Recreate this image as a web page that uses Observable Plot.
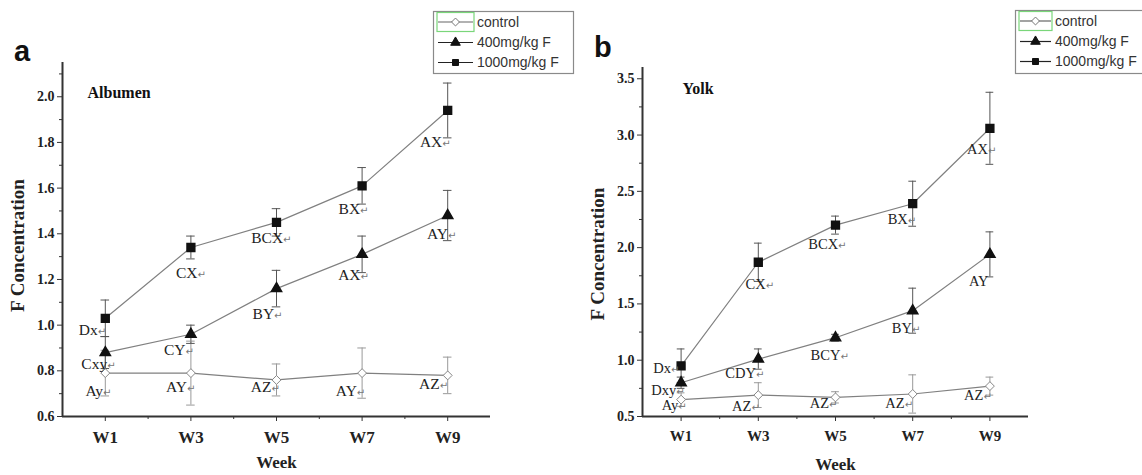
<!DOCTYPE html>
<html>
<head>
<meta charset="utf-8">
<script src="https://cdn.jsdelivr.net/npm/d3@7"></script>
<script src="https://cdn.jsdelivr.net/npm/@observablehq/plot@0.6"></script>
<style>
  html, body { margin: 0; padding: 0; background: #fff; }
  #root { position: relative; width: 1142px; height: 475px; overflow: hidden; background: #fff; }
  .panel { position: absolute; top: 0; }
  .letter { position: absolute; font-family: "Liberation Sans", Arial, sans-serif; font-weight: bold; font-size: 29px; color: #111; line-height: 1; }
  #legend { position: absolute; left: 0; top: 0; pointer-events: none; }
</style>
</head>
<body>
<div id="root">
  <div id="pa" class="panel" style="left:0px"></div>
  <div id="pb" class="panel" style="left:580px"></div>
  <div class="letter" style="left:14px;top:37px">a</div>
  <div class="letter" style="left:594px;top:33px">b</div>
  <svg id="legend" width="1142" height="475"></svg>
</div>
<script>
// ---------- data ----------
const weeks = [1, 3, 5, 7, 9];
const weekLabels = ["W1", "W3", "W5", "W7", "W9"];
const seriesNames = ["control", "400mg/kg F", "1000mg/kg F"];

// Panel a: Albumen
const albControl = [0.79, 0.79, 0.76, 0.79, 0.78];
const albControlErr = [0.10, 0.14, 0.07, 0.11, 0.08];
const alb400 = [0.88, 0.96, 1.16, 1.31, 1.48];
const alb400Err = [0.07, 0.04, 0.08, 0.08, 0.11];
const alb1000 = [1.03, 1.34, 1.45, 1.61, 1.94];
const alb1000Err = [0.08, 0.05, 0.06, 0.08, 0.12];
const albYTicks = [0.6, 0.8, 1.0, 1.2, 1.4, 1.6, 1.8, 2.0];
const albYMinor = [0.7, 0.9, 1.1, 1.3, 1.5, 1.7, 1.9, 2.1];
// [text, week, value] of the significance letters
const albLabels = [
  ["Dx\u21b5", 0.70, 0.98], ["CX\u21b5", 3.0, 1.23], ["BCX\u21b5", 4.88, 1.38], ["BX\u21b5", 6.80, 1.51], ["AX\u21b5", 8.71, 1.80],
  ["Cxy\u21b5", 0.84, 0.83], ["CY\u21b5", 2.72, 0.89], ["BY\u21b5", 4.79, 1.05], ["AX\u21b5", 6.80, 1.22], ["AY\u21b5", 8.86, 1.40],
  ["Ay\u21b5", 0.84, 0.71], ["AY\u21b5", 2.76, 0.73], ["AZ\u21b5", 4.74, 0.73], ["AY\u21b5", 6.73, 0.71], ["AZ\u21b5", 8.67, 0.74]
];

// Panel b: Yolk
const yolkControl = [0.65, 0.69, 0.67, 0.70, 0.77];
const yolkControlErr = [0.06, 0.11, 0.05, 0.17, 0.08];
const yolk400 = [0.80, 1.01, 1.20, 1.44, 1.94];
const yolk400Err = [0.05, 0.09, 0.03, 0.20, 0.20];
const yolk1000 = [0.95, 1.87, 2.20, 2.39, 3.06];
const yolk1000Err = [0.15, 0.17, 0.08, 0.20, 0.32];
const yolkYTicks = [0.5, 1.0, 1.5, 2.0, 2.5, 3.0, 3.5];
const yolkYMinor = [0.75, 1.25, 1.75, 2.25, 2.75, 3.25];
const yolkLabels = [
  ["Dx\u21b5", 0.62, 0.93], ["CX\u21b5", 3.04, 1.67], ["BCX\u21b5", 4.79, 2.03], ["BX\u21b5", 6.72, 2.25], ["AX\u21b5", 8.79, 2.87],
  ["Dxy\u21b5", 0.66, 0.735], ["CDY\u21b5", 2.65, 0.88], ["BCY\u21b5", 4.85, 1.04], ["BY\u21b5", 6.83, 1.28], ["AY", 8.71, 1.70],
  ["Ay\u21b5", 0.82, 0.60], ["AZ\u21b5", 2.68, 0.59], ["AZ\u21b5", 4.69, 0.615], ["AZ\u21b5", 6.65, 0.62], ["AZ\u21b5", 8.69, 0.69]
];

// ---------- drawing ----------
const SERIF = "'Liberation Serif', 'Times New Roman', serif";

function panel(cfg) {
  const rows = [];
  cfg.series.forEach(([name, vals, errs]) =>
    vals.forEach((v, i) => rows.push({series: name, week: weeks[i], value: v, err: errs[i]})));
  const labs = cfg.labels.map(([text, week, value]) => ({text, week, value}));
  const lo = d => d.value - d.err, hi = d => d.value + d.err;
  const cap = 0.1 * cfg.capScale;
  const bySeries = s => rows.filter(d => d.series === s);
  const barColor = d => d.series === "control" ? "#999" : "#555";
  return Plot.plot({
    width: cfg.width, height: 475,
    marginLeft: 62, marginRight: cfg.marginRight, marginTop: cfg.marginTop, marginBottom: 59,
    style: {background: "transparent", fontFamily: SERIF, overflow: "visible"},
    x: {domain: [0, 10], axis: null},
    y: {domain: cfg.yDomain, axis: null},
    marks: [
      Plot.axisY({ticks: cfg.yTicks, tickSize: 5, tickPadding: 3, tickFormat: d3.format(".1f"),
        fontSize: cfg.yFont, fontWeight: "bold", fontFamily: SERIF, stroke: "#333", fill: "#222", label: null}),
      Plot.axisY({ticks: cfg.yMinor, tickSize: 3, tickFormat: () => "", stroke: "#333", label: null}),
      Plot.axisX({ticks: weeks, tickSize: 5, tickPadding: cfg.xPad, tickFormat: d => weekLabels[weeks.indexOf(d)],
        fontSize: cfg.xFont, fontWeight: "bold", fontFamily: SERIF, stroke: "#333", fill: "#222", label: null}),
      Plot.axisX({ticks: [2, 4, 6, 8], tickSize: 3, tickFormat: () => "", stroke: "#333", label: null}),
      Plot.ruleX([0], {stroke: "#333", strokeWidth: 2}),
      Plot.ruleY([cfg.yDomain[0]], {stroke: "#333", strokeWidth: 2}),
      Plot.line(rows, {x: "week", y: "value", z: "series", stroke: "#808080", strokeWidth: 1.2}),
      Plot.ruleX(rows, {x: "week", y1: lo, y2: hi, stroke: barColor, strokeWidth: 1}),
      Plot.ruleY(rows, {y: hi, x1: d => d.week - cap, x2: d => d.week + cap, stroke: barColor}),
      Plot.ruleY(rows, {y: lo, x1: d => d.week - cap, x2: d => d.week + cap, stroke: barColor}),
      Plot.dot(bySeries(seriesNames[0]), {x: "week", y: "value", symbol: "diamond2", r: 4, fill: "white", stroke: "#888", strokeWidth: 1}),
      Plot.dot(bySeries(seriesNames[1]), {x: "week", y: "value", symbol: "triangle", r: 3.8, fill: "#111", stroke: "#111"}),
      Plot.dot(bySeries(seriesNames[2]), {x: "week", y: "value", symbol: "square", r: 4.4, fill: "#111", stroke: "#111"}),
      Plot.text(labs, {x: "week", y: "value", text: "text", fontSize: cfg.labFont, fontFamily: SERIF, fill: "#222", className: "siglab"}),
      Plot.text([cfg.title], {frameAnchor: "top-left", dx: cfg.titleDx, dy: cfg.titleDy, fontSize: 16, fontWeight: "bold", fontFamily: SERIF, fill: "#111"}),
      Plot.text(["F Concentration"], {frameAnchor: "left", dx: -45, dy: cfg.yLabDy, rotate: -90, textAnchor: "middle", lineAnchor: "middle",
        fontSize: 19, fontWeight: "bold", fontFamily: SERIF, fill: "#222"}),
      Plot.text(["Week"], {frameAnchor: "bottom", dy: cfg.weekDy, textAnchor: "middle", lineAnchor: "middle",
        fontSize: 17, fontWeight: "bold", fontFamily: SERIF, fill: "#222"})
    ]
  });
}

// make the paragraph-return glyph small and grey, like the Word mark in the source
function softenReturnGlyph(root) {
  root.querySelectorAll("text").forEach(t => {
    if (t.children.length) return;
    const s = t.textContent;
    if (!s.includes("\u21b5")) return;
    const parts = s.split("\u21b5");
    t.textContent = parts[0];
    const ts = document.createElementNS("http://www.w3.org/2000/svg", "tspan");
    ts.setAttribute("font-size", "10");
    ts.setAttribute("fill", "#777");
    ts.setAttribute("font-family", "'DejaVu Sans', sans-serif");
    ts.textContent = "\u21b5";
    t.appendChild(ts);
    if (parts[1]) t.appendChild(document.createTextNode(parts[1]));
  });
}

const chartA = panel({
  width: 570, marginRight: 80, marginTop: 62,
  yDomain: [0.6, 2.15], yTicks: albYTicks, yMinor: albYMinor,
  series: [[seriesNames[0], albControl, albControlErr], [seriesNames[1], alb400, alb400Err], [seriesNames[2], alb1000, alb1000Err]],
  labels: albLabels, title: "Albumen", titleDx: 25, titleDy: 24, capScale: 1,
  yFont: 14, xFont: 17, xPad: 9, labFont: 15.5, yLabDy: 6, weekDy: 46
});
softenReturnGlyph(chartA);
document.getElementById("pa").append(chartA);

const chartB = panel({
  width: 562, marginRight: 114, marginTop: 67,
  yDomain: [0.5, 3.6], yTicks: yolkYTicks, yMinor: yolkYMinor,
  series: [[seriesNames[0], yolkControl, yolkControlErr], [seriesNames[1], yolk400, yolk400Err], [seriesNames[2], yolk1000, yolk1000Err]],
  labels: yolkLabels, title: "Yolk", titleDx: 40, titleDy: 15, capScale: 1,
  yFont: 14, xFont: 15, xPad: 9, labFont: 14.5, yLabDy: 12, weekDy: 48
});
softenReturnGlyph(chartB);
document.getElementById("pb").append(chartB);

// ---------- legends ----------
const svg = d3.select("#legend");
function legend(x0, y0, w, h, sampleX0, sampleX1, textX) {
  const g = svg.append("g");
  g.append("rect").attr("x", x0 + 0.5).attr("y", y0 + 0.5).attr("width", w).attr("height", h)
    .attr("fill", "white").attr("stroke", "#8a8a8a").attr("stroke-width", 1.2);
  const rowsY = [y0 + 11, y0 + 31.5, y0 + 51.5];
  const mid = (sampleX0 + sampleX1) / 2;
  g.append("rect").attr("x", sampleX0).attr("y", y0 + 1.5).attr("width", sampleX1 - sampleX0).attr("height", 19)
    .attr("fill", "none").attr("stroke", "#7ad67a").attr("stroke-width", 1.2);
  const syms = [d3.symbolDiamond2, d3.symbolTriangle, d3.symbolSquare];
  const sizes = [40, 40, 36];
  seriesNames.forEach((name, i) => {
    const y = rowsY[i];
    g.append("line").attr("x1", sampleX0 + 1).attr("x2", sampleX1 - 1).attr("y1", y).attr("y2", y)
      .attr("stroke", i === 0 ? "#666" : "#222").attr("stroke-width", 1.2);
    g.append("path").attr("d", d3.symbol(syms[i], sizes[i])())
      .attr("transform", `translate(${mid},${y})`)
      .attr("fill", i === 0 ? "white" : "#111").attr("stroke", i === 0 ? "#777" : "#111");
    g.append("text").attr("x", textX).attr("y", y).attr("dy", "0.35em")
      .attr("font-family", "'Liberation Sans', Arial, sans-serif").attr("font-size", 14).attr("fill", "#333")
      .text(name);
  });
}
legend(433, 11, 140, 62, 437, 474, 477);
legend(1015, 10, 130, 63, 1019, 1052, 1055);
</script>
</body>
</html>
